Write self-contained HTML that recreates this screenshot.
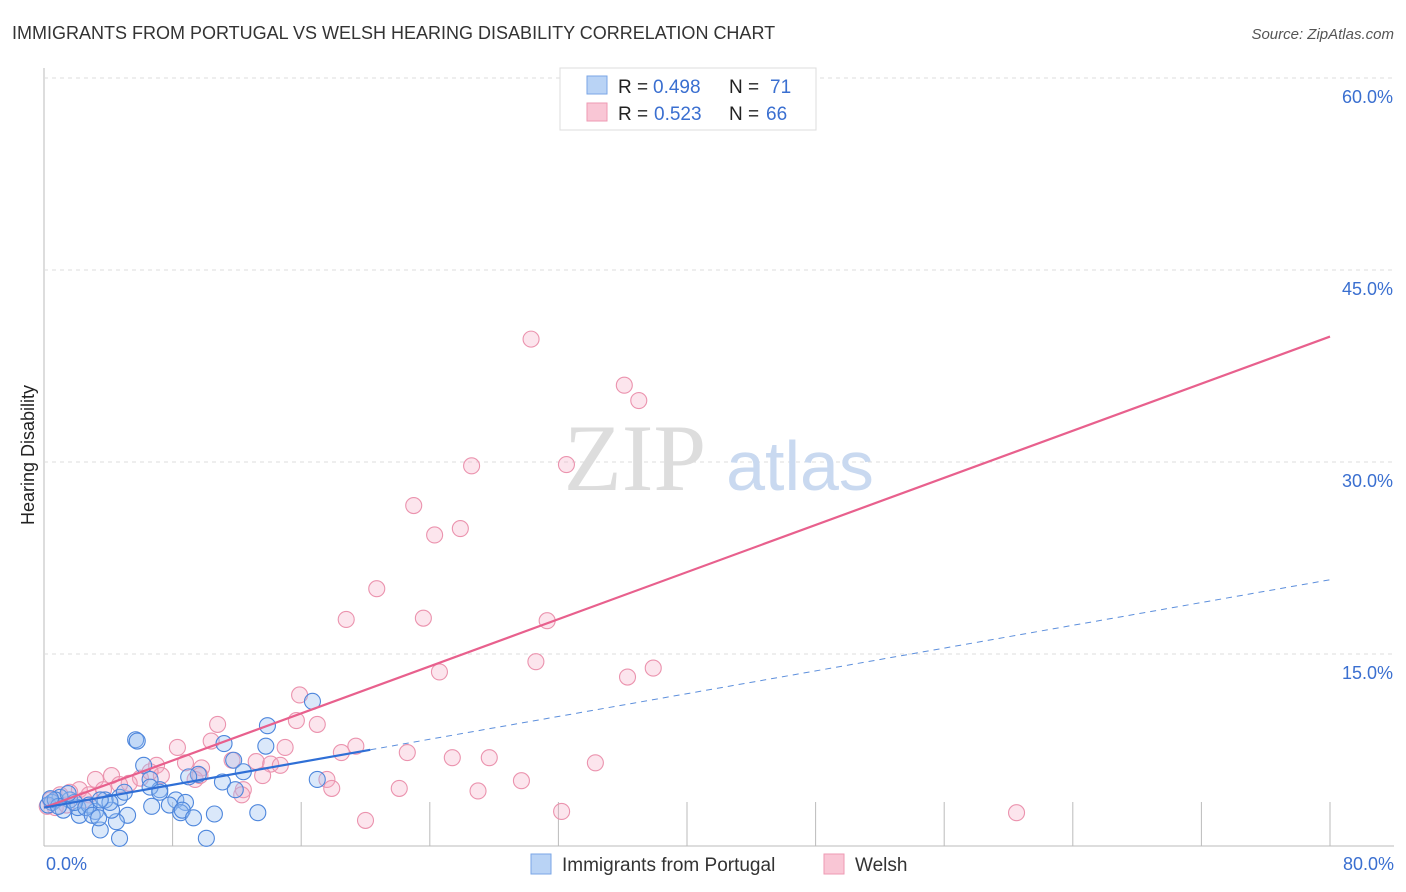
<!DOCTYPE html>
<html><head><meta charset="utf-8"><style>
body{margin:0;background:#fff;font-family:"Liberation Sans",sans-serif}
svg{display:block}
</style></head><body>
<svg width="1406" height="892">
<text x="12" y="39" font-size="18" fill="#333">IMMIGRANTS FROM PORTUGAL VS WELSH HEARING DISABILITY CORRELATION CHART</text>
<text x="1394" y="39" font-size="15" fill="#555" font-style="italic" text-anchor="end">Source: ZipAtlas.com</text>
<g id="grid"></g>
<text x="635" y="490" font-size="95" fill="#ddd" font-family="Liberation Serif,serif" text-anchor="middle">ZIP</text>
<text x="800" y="490" font-size="70" fill="#c9d9f0" text-anchor="middle">atlas</text>
<g id="pts"></g>
<g id="lines"></g>
<text transform="translate(34,455) rotate(-90)" font-size="18" fill="#222" text-anchor="middle">Hearing Disability</text>
<text x="46" y="870" font-size="18" fill="#3a6fd0">0.0%</text>
<text x="1394" y="870" font-size="18" fill="#3a6fd0" text-anchor="end">80.0%</text>
<g>
<rect x="560" y="68" width="256" height="62" fill="#fff" stroke="#ddd"/>
<rect x="587" y="76" width="20" height="18" fill="#b9d3f5" stroke="#7aa6e6"/>
<rect x="587" y="103" width="20" height="18" fill="#f9c6d5" stroke="#ee9ab3"/>
<text x="618" y="93" font-size="19" fill="#222">R =</text>
<text x="653" y="93" font-size="19" fill="#3a6fd0">0.498</text>
<text x="729" y="93" font-size="19" fill="#222">N =</text>
<text x="770" y="93" font-size="19" fill="#3a6fd0">71</text>
<text x="618" y="120" font-size="19" fill="#222">R =</text>
<text x="654" y="120" font-size="19" fill="#3a6fd0">0.523</text>
<text x="729" y="120" font-size="19" fill="#222">N =</text>
<text x="766" y="120" font-size="19" fill="#3a6fd0">66</text>
</g>
<g>
<rect x="531" y="854" width="20" height="20" fill="#b9d3f5" stroke="#7aa6e6"/>
<text x="562" y="871" font-size="19" fill="#333">Immigrants from Portugal</text>
<rect x="824" y="854" width="20" height="20" fill="#f9c6d5" stroke="#ee9ab3"/>
<text x="855" y="871" font-size="19" fill="#333">Welsh</text>
</g>
</svg>
<script>
const yTicks=[15,30,45,60];
const yTickLabels=["15.0%","30.0%","45.0%","60.0%"];
const xTicks=[0,8,16,24,32,40,48,56,64,72,80];
const blueX=[16.7,5.7,5.8,13.9,13.8,11.2,11.8,6.2,6.6,9.6,12.4,17.0,11.1,9.0,7.2,8.2,8.8,7.8,6.7,8.5,8.6,9.3,10.6,13.3,11.9,4.7,5.2,3.5,4.7,10.1,4.5,3.2,2.2,2.1,4.2,3.8,4.1,2.8,1.6,1.0,0.5,0.25,0.7,1.2,1.9,2.6,3.0,3.5,5.0,6.6,7.2,3.4,1.5,0.9,0.4];
const blueY=[11.3,8.3,8.2,9.4,7.8,8.0,6.7,6.3,5.2,5.6,5.8,5.2,5.0,5.4,4.4,3.6,3.4,3.2,3.1,2.6,2.8,2.2,2.5,2.6,4.4,3.8,2.4,1.25,0.6,0.6,1.9,2.7,2.4,3.0,2.8,3.6,3.4,3.2,3.6,3.8,3.4,3.2,3.6,2.8,3.4,3.0,2.4,3.6,4.2,4.6,4.2,2.2,4.1,3.1,3.7];
const pinkX=[30.3,36.1,37.0,26.6,32.5,23.0,25.9,24.3,20.7,18.8,23.6,31.3,30.6,37.9,36.3,24.6,15.9,15.7,17.0,10.8,8.3,10.4,15.0,18.5,19.4,22.6,25.4,27.7,34.3,11.7,13.2,14.1,14.7,8.8,9.8,7.0,7.3,13.6,17.6,29.7,22.1,27.0,17.9,12.4,12.3,32.2,20.0,60.5,9.4,6.0,4.2,3.2,5.3,2.2,1.0,0.4,1.6,3.7,2.8,4.7,6.6,0.7,0.2,2.5,1.4,9.7];
const pinkY=[39.6,36.0,34.8,29.7,29.8,26.6,24.8,24.3,20.1,17.7,17.8,17.6,14.4,13.9,13.2,13.6,11.8,9.8,9.5,9.5,7.7,8.2,7.7,7.3,7.8,7.3,6.9,6.9,6.5,6.7,6.6,6.4,6.3,6.5,6.1,6.3,5.5,5.5,5.2,5.1,4.5,4.3,4.5,4.4,4.0,2.7,2.0,2.6,5.2,5.3,5.5,5.2,4.9,4.4,4.0,3.6,4.2,4.4,4.0,4.8,5.8,3.0,3.1,3.6,3.2,5.5];
const blueFit=[3.0,0.2225];
const pinkFit=[3.0,0.46];
const NS="http://www.w3.org/2000/svg";
const X=v=>44+v*16.075, Y=v=>846-v*12.8;
function mk(t,a,p){const e=document.createElementNS(NS,t);for(const k in a)e.setAttribute(k,a[k]);p.appendChild(e);return e;}
const g=document.getElementById('grid');
let ax=mk('line',{x1:44,y1:68,x2:44,y2:846,stroke:'#bbb'},g);


let bx=mk('line',{x1:44,y1:846,x2:1394,y2:846,stroke:'#bbb'},g);


yTicks.forEach((t,i)=>{
 const l=mk('line',{x1:44,x2:1394,y1:Y(t),y2:Y(t),stroke:'#ddd','stroke-dasharray':'4,4'},g);
 
 
 const tx=mk('text',{x:1393,y:Y(t)+25,'font-size':18,fill:'#3a6fd0','text-anchor':'end'},g);
 tx.textContent=yTickLabels[i];
 
 
});
xTicks.forEach(t=>{
 const l=mk('line',{x1:X(t),x2:X(t),y1:802,y2:846,stroke:'#bbb'},g);
 
 
});
const P=document.getElementById('pts');
pinkX.forEach((v,i)=>{const c=mk('circle',{cx:X(v),cy:Y(pinkY[i]),r:8,fill:'rgba(246,170,195,0.3)',stroke:'#eb93ae','stroke-width':1.1},P);
 
 });
blueX.forEach((v,i)=>{const c=mk('circle',{cx:X(v),cy:Y(blueY[i]),r:8,fill:'rgba(150,190,240,0.35)',stroke:'#4d86dc','stroke-width':1.1},P);
 
 });
const L=document.getElementById('lines');
const f=(fit,x)=>fit[0]+fit[1]*x;
let pl=mk('line',{x1:X(0),y1:Y(f(pinkFit,0)),x2:X(80),y2:Y(f(pinkFit,80)),stroke:'#e8608d','stroke-width':2.2},L);


let bl=mk('line',{x1:X(0),y1:Y(f(blueFit,0)),x2:X(20.3),y2:Y(f(blueFit,20.3)),stroke:'#2f6fd6','stroke-width':2.2},L);


let bd=mk('line',{x1:X(20.3),y1:Y(f(blueFit,20.3)),x2:X(80),y2:Y(f(blueFit,80)),stroke:'#5d8fdc','stroke-width':1,'stroke-dasharray':'6,5'},L);


</script>
</body></html>
